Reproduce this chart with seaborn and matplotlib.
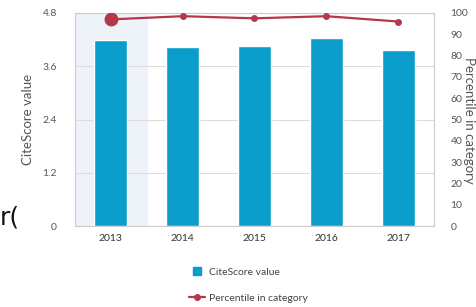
import numpy as np
import pandas as pd
import matplotlib.pyplot as plt
from matplotlib.lines import Line2D
import seaborn as sns

years = ["2013", "2014", "2015", "2016", "2017"]
citescore = [4.19, 4.03, 4.05, 4.23, 3.96]
percentile = [97, 98.5, 97.5, 98.5, 96]

bar_color = "#0a9dcc"
line_color = "#b5374a"
text_color = "#555555"

sns.set_style("white")
plt.rcParams["font.family"] = ["Lato", "DejaVu Sans"]

df = pd.DataFrame({"year": years, "citescore": citescore, "percentile": percentile})

fig = plt.figure(figsize=(4.77, 3.07), dpi=100)
ax = fig.add_axes([75 / 477, 1 - 226 / 307, 359 / 477, 213 / 307])

# highlighted first year
ax.axvspan(-0.5, 0.5, color="#edf3f9", zorder=0)

sns.barplot(data=df, x="year", y="citescore", color=bar_color, width=0.46,
            saturation=1, ax=ax, zorder=2)
ax.set_ylim(0, 4.8)
ax.set_xlim(-0.5, 4.5)
ax.set_yticks([0, 1.2, 2.4, 3.6, 4.8])
ax.set_yticklabels(["0", "1.2", "2.4", "3.6", "4.8"])
ax.yaxis.grid(True, color="#dddddd", linewidth=0.8, zorder=1)
ax.set_axisbelow(True)
ax.set_xlabel("")
ax.set_ylabel("CiteScore value", fontsize=9.5, color=text_color, labelpad=6)
ax.tick_params(axis="y", labelsize=7.5, colors=text_color, length=0, pad=13)
ax.tick_params(axis="x", labelsize=7.5, colors="#333333", length=0, pad=6)
for s in ax.spines.values():
    s.set_color("#cccccc")
    s.set_linewidth(0.8)

ax2 = ax.twinx()
sns.lineplot(data=df, x="year", y="percentile", color=line_color, linewidth=1.6,
             marker="o", markersize=5, markeredgewidth=0, ax=ax2, zorder=3)
ax2.plot([0], [percentile[0]], marker="o", markersize=9, color=line_color, zorder=4)
ax2.set_ylim(0, 100)
ax2.set_yticks(np.arange(0, 101, 10))
ax2.set_ylabel("")
ax2.tick_params(axis="y", labelsize=7.5, colors=text_color, length=0, pad=12)
for s in ax2.spines.values():
    s.set_visible(False)

fig.text(469 / 477, 1 - 120 / 307, "Percentile in category", rotation=270,
         ha="center", va="center", fontsize=9.5, color=text_color)

handles = [
    Line2D([], [], marker="s", linestyle="none", color=bar_color, markersize=6),
    Line2D([], [], marker="o", color=line_color, markersize=4, linewidth=1.6),
]
fig.legend(handles, ["CiteScore value", "Percentile in category"],
           loc="upper left", bbox_to_anchor=(180 / 477, 1 - 258 / 307),
           frameon=False, fontsize=7.5, labelcolor="#444444",
           handlelength=1.5, handletextpad=0.4, labelspacing=1.6)

fig.text(0.0, 1 - 217 / 307, "r(", fontsize=18, color="#111111", va="center", ha="left",
         family="DejaVu Sans")

fig.savefig("out.png", dpi=100)
